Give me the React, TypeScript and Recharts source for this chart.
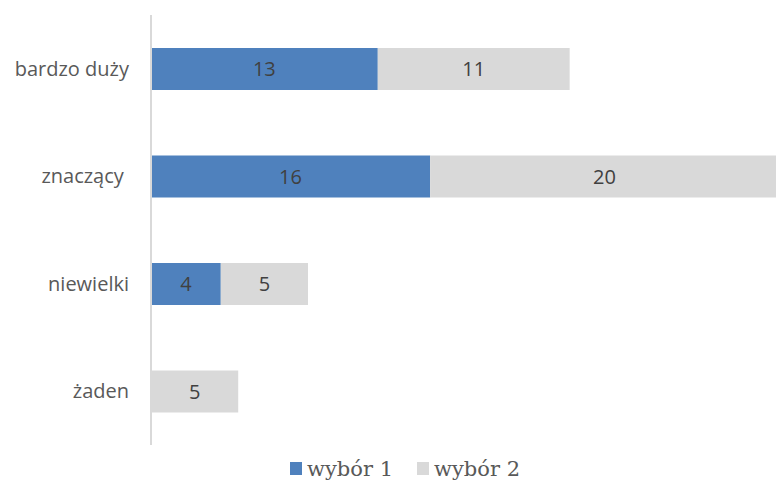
import React from 'react';
import { BarChart, Bar, XAxis, YAxis, Legend, LabelList } from 'recharts';

const categories = ['bardzo duży', 'znaczący\u00a0', 'niewielki', 'żaden'];
const wybor1 = [13, 16, 4, 0];
const wybor2 = [11, 20, 5, 5];
const seriesNames = ['wybór 1', 'wybór 2'];
const colors = ['#4F81BD', '#D9D9D9'];

const data = categories.map((name, i) => ({ name, w1: wybor1[i], w2: wybor2[i] }));

const labelFont = "'Open Sans', sans-serif";

function LegendBox() {
  return (
    <div
      style={{
        display: 'flex',
        alignItems: 'center',
        paddingLeft: 290,
        height: 37,
        fontFamily: "'DejaVu Serif', serif",
        fontSize: 21,
        color: '#595959',
        paddingTop: 10,
        boxSizing: 'border-box',
      }}
    >
      {seriesNames.map((n, i) => (
        <span key={n} style={{ display: 'flex', alignItems: 'center', marginRight: 24 }}>
          <span style={{ width: 12, height: 13, background: colors[i], display: 'inline-block', marginRight: 5 }} />
          {n}
        </span>
      ))}
    </div>
  );
}

export default function App() {
  return (
    <div style={{ position: 'absolute', left: 0, top: 0, width: 776, height: 482, overflow: 'hidden', background: '#fff' }}>
      <BarChart
        width={790}
        height={482}
        data={data}
        layout="vertical"
        margin={{ top: 15, right: 11, bottom: 0, left: 0 }}
      >
        <XAxis type="number" domain={[0, 36]} hide />
        <YAxis
          type="category"
          dataKey="name"
          width={151}
          axisLine={{ stroke: '#D9D9D9', strokeWidth: 2 }}
          tickLine={false}
          tickSize={0}
          tickMargin={22}
          tick={{ fill: '#595959', fontSize: 20, fontFamily: labelFont }}
        />
        <Legend verticalAlign="bottom" content={() => <LegendBox />} wrapperStyle={{ height: 37, left: 0, width: 790 }} />
        <Bar dataKey="w1" name={seriesNames[0]} stackId="a" fill={colors[0]} barSize={42} isAnimationActive={false}>
          <LabelList
            dataKey="w1"
            position="center"
            formatter={(v: any) => (v ? v : '')}
            fill="#404040"
            fontSize={20}
            fontFamily={labelFont}
          />
        </Bar>
        <Bar dataKey="w2" name={seriesNames[1]} stackId="a" fill={colors[1]} barSize={42} isAnimationActive={false}>
          <LabelList
            dataKey="w2"
            position="center"
            formatter={(v: any) => (v ? v : '')}
            fill="#404040"
            fontSize={20}
            fontFamily={labelFont}
          />
        </Bar>
      </BarChart>
    </div>
  );
}
